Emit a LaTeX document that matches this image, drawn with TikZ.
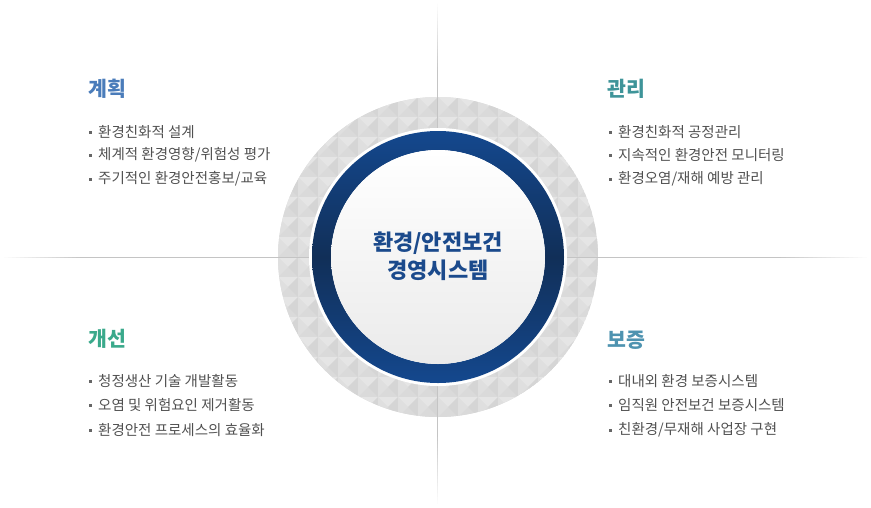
\documentclass[tikz,border=0pt]{standalone}
\usepackage{fontspec}
\usetikzlibrary{calc}
\setmainfont{Noto Sans CJK KR}
\definecolor{hblue}{HTML}{4A7CBA}
\definecolor{hteal}{HTML}{3E9499}
\definecolor{hgreen}{HTML}{3AA98B}
\definecolor{hsky}{HTML}{4E93B0}
\definecolor{btxt}{HTML}{505050}
\definecolor{lgray}{HTML}{C4C4C4}
\definecolor{ringA}{HTML}{14488E}
\definecolor{ringB}{HTML}{112F58}
\definecolor{ctxt}{HTML}{1B4A8C}
\definecolor{pT}{HTML}{E5E5E5}
\definecolor{pL}{HTML}{DFDFDF}
\definecolor{pR}{HTML}{D5D5D5}
\definecolor{pB}{HTML}{DADADA}
\tikzset{
  head/.style={anchor=west, inner sep=0pt, font=\fontsize{20.5}{24}\selectfont\bfseries},
  item/.style={anchor=west, inner sep=0pt, text=btxt, font=\fontsize{14.5}{17}\selectfont},
  bulsq/.style={fill=black!60, minimum size=3pt, inner sep=0pt, draw=none},
  guide/.style={line width=1.8pt},
}
\begin{document}
\begin{tikzpicture}[x=1pt,y=-1pt]
\useasboundingbox (0,0) rectangle (871,507);
\coordinate (c) at (438,257);
% patterned gray ring
\begin{scope}
  \clip (c) circle[radius=160pt];
  \fill[pB] (c) circle[radius=160pt];
  \foreach \i in {-8,...,7}{
    \foreach \j in {-8,...,7}{
      \pgfmathsetmacro{\xa}{438+20*\i}
      \pgfmathsetmacro{\ya}{257+20*\j}
      \pgfmathsetmacro{\xb}{\xa+20}
      \pgfmathsetmacro{\yb}{\ya+20}
      \pgfmathsetmacro{\xm}{\xa+10}
      \pgfmathsetmacro{\ym}{\ya+10}
      \fill[pT] (\xa,\ya) -- (\xb,\ya) -- (\xm,\ym) -- cycle;
      \fill[pR] (\xb,\ya) -- (\xb,\yb) -- (\xm,\ym) -- cycle;
      \fill[pB] (\xb,\yb) -- (\xa,\yb) -- (\xm,\ym) -- cycle;
      \fill[pL] (\xa,\yb) -- (\xa,\ya) -- (\xm,\ym) -- cycle;
    }
  }
\end{scope}
% guide lines (faded ends drawn as short segments)
\coordinate (lt) at (437.5,0);
\coordinate (lb) at (437.5,507);
\coordinate (ll) at (0,257.5);
\coordinate (lr) at (871,257.5);
\foreach \k in {0,...,19}{
  \pgfmathsetmacro{\pc}{5*\k}
  \draw[guide, draw=lgray!\pc] ($(lt)+(0,3.5*\k)$) -- ($(lt)+(0,3.5*\k+3.6)$);
  \draw[guide, draw=lgray!\pc] ($(lb)+(0,-3.5*\k)$) -- ($(lb)+(0,-3.5*\k-3.6)$);
  \draw[guide, draw=lgray!\pc] ($(ll)+(4*\k,0)$) -- ($(ll)+(4*\k+4.1,0)$);
  \draw[guide, draw=lgray!\pc] ($(lr)+(-4.5*\k,0)$) -- ($(lr)+(-4.5*\k-4.6,0)$);
}
\draw[guide, draw=lgray] ($(lt)+(0,70)$) -- ($(lb)+(0,-70)$);
\draw[guide, draw=lgray] ($(ll)+(80,0)$) -- ($(lr)+(-90,0)$);
% white gap, blue ring, inner disk
\fill[white] (c) circle[radius=129pt];
\shade[even odd rule, top color=ringA, bottom color=ringA, middle color=ringB]
  (c) circle[radius=126pt] (c) circle[radius=107pt];
\shade[top color=white, bottom color=black!8] (c) circle[radius=107pt];
\node[font=\fontsize{22}{28}\selectfont\bfseries, text=ctxt, align=center] (center) at (438,256)
  {환경/안전보건\\경영시스템};
% top-left
\node[head, text=hblue] (h1) at (88,89) {계획};
\node[bulsq] (s11) at (90,132) {}; \node[item] (t11) at (98,132) {환경친화적 설계};
\node[bulsq] (s12) at (90,155) {}; \node[item] (t12) at (98,155) {체계적 환경영향/위험성 평가};
\node[bulsq] (s13) at (90,179) {}; \node[item] (t13) at (98,179) {주기적인 환경안전홍보/교육};
% top-right
\node[head, text=hteal] (h2) at (607,89) {관리};
\node[bulsq] (s21) at (610,132) {}; \node[item] (t21) at (618,132) {환경친화적 공정관리};
\node[bulsq] (s22) at (610,155) {}; \node[item] (t22) at (618,155) {지속적인 환경안전 모니터링};
\node[bulsq] (s23) at (610,179) {}; \node[item] (t23) at (618,179) {환경오염/재해 예방 관리};
% bottom-left
\node[head, text=hgreen] (h3) at (88,339) {개선};
\node[bulsq] (s31) at (90,381) {}; \node[item] (t31) at (98,381) {청정생산 기술 개발활동};
\node[bulsq] (s32) at (90,405) {}; \node[item] (t32) at (98,405) {오염 및 위험요인 제거활동};
\node[bulsq] (s33) at (90,430) {}; \node[item] (t33) at (98,430) {환경안전 프로세스의 효율화};
% bottom-right
\node[head, text=hsky] (h4) at (607,340) {보증};
\node[bulsq] (s41) at (610,381) {}; \node[item] (t41) at (618,381) {대내외 환경 보증시스템};
\node[bulsq] (s42) at (610,405) {}; \node[item] (t42) at (618,405) {임직원 안전보건 보증시스템};
\node[bulsq] (s43) at (610,430) {}; \node[item] (t43) at (618,430) {친환경/무재해 사업장 구현};
\end{tikzpicture}
\end{document}
